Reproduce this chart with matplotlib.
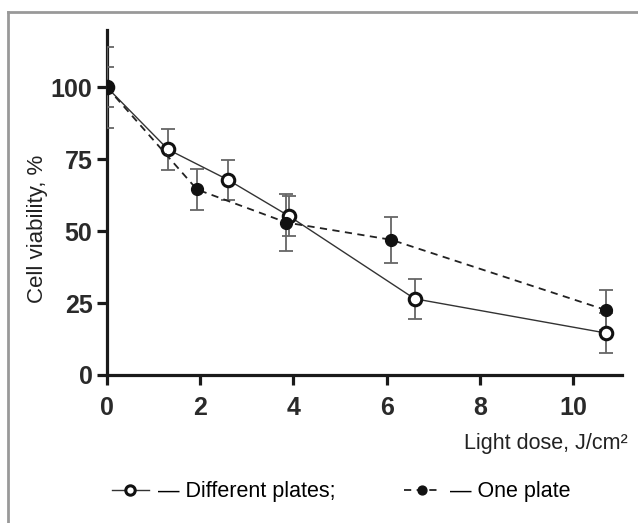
import matplotlib
matplotlib.use("Agg")
import matplotlib.pyplot as plt
from matplotlib.lines import Line2D

# datos
dosis_dif = [0, 1.31, 2.59, 3.9, 6.6, 10.7]
viab_dif = [100, 78.4, 67.9, 55.3, 26.5, 14.6]
err_dif = [14, 7, 7, 7, 7, 7]

dosis_una = [0, 1.93, 3.85, 6.1, 10.7]
viab_una = [100, 64.5, 53, 47, 22.6]
err_una = [7, 7, 10, 8, 7]

xticks = [0, 2, 4, 6, 8, 10]
yticks = [0, 25, 50, 75, 100]

plt.rcParams['font.family'] = ['Liberation Sans', 'DejaVu Sans']

fig = plt.figure(figsize=(6.38, 5.23), dpi=100)
ax = fig.add_axes([0.1677, 0.283, 0.8073, 0.66])

# barras de error (debajo de los puntos)
ax.errorbar(dosis_dif, viab_dif, yerr=err_dif, fmt='none', ecolor='#666666',
            elinewidth=1.3, capsize=5, capthick=1.3, zorder=2)
ax.errorbar(dosis_una, viab_una, yerr=err_una, fmt='none', ecolor='#666666',
            elinewidth=1.3, capsize=5, capthick=1.3, zorder=2)

# series
ax.plot(dosis_dif, viab_dif, linestyle='-', color='#333333', lw=1.0,
        marker='o', markersize=9, markerfacecolor='white',
        markeredgecolor='#111111', markeredgewidth=2.2, zorder=3,
        label='— Different plates;')
ax.plot(dosis_una, viab_una, linestyle=(0, (4, 3)), color='#222222', lw=1.3,
        marker='o', markersize=8.5, markerfacecolor='#111111',
        markeredgecolor='#111111', zorder=4, label='— One plate')

ax.set_xlim(0, 11.05)
ax.set_ylim(0, 120)
ax.set_xticks(xticks)
ax.set_yticks(yticks)

for s in ['top', 'right']:
    ax.spines[s].set_visible(False)
for s in ['left', 'bottom']:
    ax.spines[s].set_linewidth(2.3)
    ax.spines[s].set_color('#1a1a1a')
ax.spines['left'].set_zorder(1)

ax.tick_params(axis='both', direction='out', length=7, width=2.3,
               color='#1a1a1a', labelsize=18)
ax.tick_params(axis='x', pad=8)
ax.tick_params(axis='y', pad=3.5)
for lab in ax.get_xticklabels() + ax.get_yticklabels():
    lab.set_fontweight('bold')
    lab.set_color('#2a2a2a')

ax.set_ylabel('Cell viability, %', fontsize=16, color='#222222')
ax.yaxis.set_label_coords(-0.115, 0.423)
ax.set_xlabel('Light dose, J/cm²', fontsize=15.5, color='#222222')
ax.xaxis.set_label_coords(1.01, -0.168)
ax.xaxis.label.set_horizontalalignment('right')

# leyenda abajo
h, l = ax.get_legend_handles_labels()
fig.legend(h, l, loc='center left', bbox_to_anchor=(0.1755, 0.0593),
           ncol=2, frameon=False, fontsize=15.5, handlelength=1.7,
           handletextpad=0.42, columnspacing=3.2, markerscale=0.75,
           borderpad=0, borderaxespad=0)

# marco gris de la figura
fig.add_artist(Line2D([0.0125, 1.0], [0.977, 0.977], color='#999999', lw=2))
fig.add_artist(Line2D([0.0125, 0.0125], [0.0, 0.977], color='#999999', lw=2))

fig.savefig('out.png', dpi=100)
